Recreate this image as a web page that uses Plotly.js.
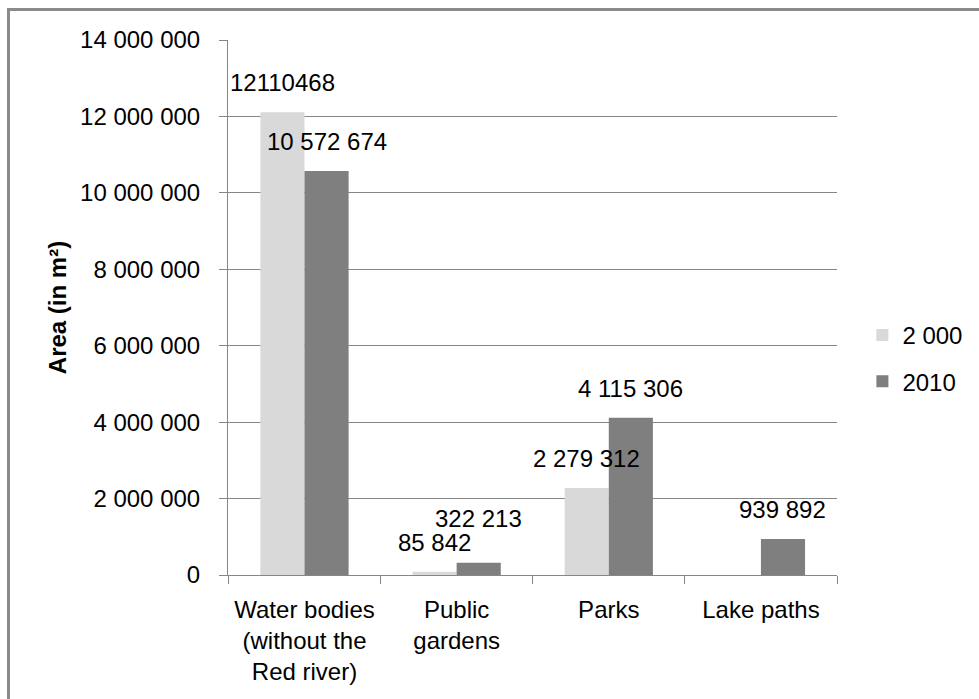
<!DOCTYPE html>
<html>
<head>
<meta charset="utf-8">
<script src="https://cdn.plot.ly/plotly-3.0.1.min.js"></script>
<style>
  html, body { margin: 0; padding: 0; background: #ffffff; overflow: hidden; }
  #chart { width: 979px; height: 699px; }
  #frame {
    position: absolute; left: 7px; top: 8px; width: 1100px; height: 900px;
    border-top: 3px solid #8a8a8a; border-left: 3px solid #8a8a8a;
    pointer-events: none;
  }
</style>
</head>
<body>
<div id="chart"></div>
<div id="frame"></div>
<script>
// Green / water surface areas in the city (m²)
const categories = [
  "Water bodies<br>(without the<br>Red river)",
  "Public<br>gardens",
  "Parks",
  "Lake paths"
];
const series2000 = [12110468, 85842, 2279312, null];
const series2010 = [10572674, 322213, 4115306, 939892];
const labels2000 = ["12110468", "85 842", "2 279 312", ""];
const labels2010 = ["10 572 674", "322 213", "4 115 306", "939 892"];
const seriesNames = ["2 000", "2010"];
const yTickVals = [0, 2000000, 4000000, 6000000, 8000000, 10000000, 12000000, 14000000];
const yTickText = ["0", "2 000 000", "4 000 000", "6 000 000", "8 000 000", "10 000 000", "12 000 000", "14 000 000"];

const FONT = "Liberation Sans, Arial, sans-serif";
const AXIS = "#868686";
const BAR_SHIFT = 22;   // half of one bar width in px
const LABEL_LIFT = 14;  // gap between bar top and its value label

const traces = [
  {
    type: "bar", name: seriesNames[0], legendgroup: "a",
    x: categories, y: series2000,
    marker: { color: "#d9d9d9", line: { width: 0 } },
    hoverinfo: "skip"
  },
  {
    type: "bar", name: seriesNames[1], legendgroup: "b",
    x: categories, y: series2010,
    marker: { color: "#7f7f7f", line: { width: 0 } },
    hoverinfo: "skip"
  }
];

// value labels above each bar; the two small public-garden labels
// sit close together, so the 2010 one is lifted a little further
const annotations = [];
[[series2000, labels2000, -BAR_SHIFT, 0], [series2010, labels2010, BAR_SHIFT, 1]].forEach(([vals, labs, dx, s]) => {
  vals.forEach((v, i) => {
    if (v === null || labs[i] === "") return;
    const extra = (s === 1 && i === 1) ? 15 : 0;
    annotations.push({
      x: categories[i], y: v, xref: "x", yref: "y",
      text: labs[i], showarrow: false,
      xanchor: "center", yanchor: "bottom",
      xshift: dx, yshift: LABEL_LIFT + extra,
      font: { family: FONT, size: 24, color: "#000000" }
    });
  });
});

const layout = {
  width: 979, height: 699,
  margin: { l: 228, r: 141, t: 40, b: 124 },
  paper_bgcolor: "#ffffff", plot_bgcolor: "#ffffff",
  font: { family: FONT, size: 24, color: "#000000" },
  barmode: "group",
  bargap: 0.42, bargroupgap: 0,
  showlegend: true,
  legend: {
    x: 1.04, y: 0.49, xanchor: "left", yanchor: "top",
    traceorder: "grouped", tracegroupgap: 12,
    font: { family: FONT, size: 24, color: "#000000" },
    bgcolor: "rgba(0,0,0,0)"
  },
  xaxis: {
    type: "category",
    showline: true, linecolor: AXIS, linewidth: 1,
    ticks: "outside", tickson: "boundaries", ticklen: 8, tickcolor: AXIS,
    showgrid: false, zeroline: false,
    ticklabelstandoff: 13,
    tickfont: { family: FONT, size: 24, color: "#000000" }
  },
  yaxis: {
    range: [0, 14000000],
    tickvals: yTickVals, ticktext: yTickText,
    showline: true, linecolor: AXIS, linewidth: 1,
    ticks: "outside", ticklen: 8, tickcolor: AXIS,
    showgrid: true, gridcolor: AXIS, gridwidth: 1,
    zeroline: false,
    ticklabelstandoff: 14,
    tickfont: { family: FONT, size: 24, color: "#000000" },
    title: { text: "<b>Area (in m²)</b>", standoff: 6,
             font: { family: FONT, size: 24, color: "#000000" } }
  },
  annotations: annotations
};

Plotly.newPlot("chart", traces, layout, { displayModeBar: false, staticPlot: true });
</script>
</body>
</html>
